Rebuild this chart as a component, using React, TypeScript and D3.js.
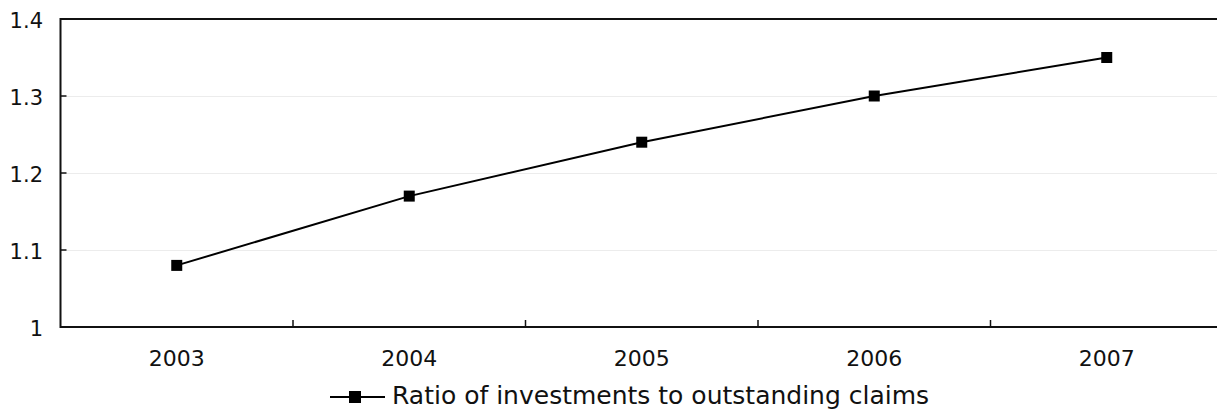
import React, { useEffect, useRef } from "react";
import * as d3 from "d3";

const years = ["2003", "2004", "2005", "2006", "2007"];
const ratioValues = [1.08, 1.17, 1.24, 1.3, 1.35];
const yTicks = [1, 1.1, 1.2, 1.3, 1.4];
const seriesName = "Ratio of investments to outstanding claims";

const W = 1217;
const H = 411;
const FONT = "'DejaVu Sans', Verdana, sans-serif";

export default function App() {
  const ref = useRef<SVGSVGElement>(null);

  useEffect(() => {
    const svg = d3.select(ref.current);
    svg.selectAll("*").remove();

    const left = 60.5;
    const top = 19;
    const bottom = 327;
    const step = 232.5;
    const right = left + step * years.length;

    const x = d3.scaleBand<string>().domain(years).range([left, right]);
    const y = d3.scaleLinear().domain([1, 1.4]).range([bottom, top]);

    // gridlines
    svg
      .append("g")
      .selectAll("line")
      .data(yTicks.filter((t) => t > 1 && t < 1.4))
      .join("line")
      .attr("x1", left)
      .attr("x2", right)
      .attr("y1", (d) => Math.round(y(d)) + 0.5)
      .attr("y2", (d) => Math.round(y(d)) + 0.5)
      .attr("stroke", "#ececec")
      .attr("stroke-width", 1);

    // top border
    svg
      .append("line")
      .attr("x1", left)
      .attr("x2", right)
      .attr("y1", top)
      .attr("y2", top)
      .attr("stroke", "#111")
      .attr("stroke-width", 2);

    // y axis
    svg
      .append("line")
      .attr("x1", left)
      .attr("x2", left)
      .attr("y1", top - 1)
      .attr("y2", bottom + 1)
      .attr("stroke", "#111")
      .attr("stroke-width", 2);

    svg
      .append("g")
      .selectAll("line")
      .data(yTicks)
      .join("line")
      .attr("x1", left)
      .attr("x2", left + 6)
      .attr("y1", (d) => y(d))
      .attr("y2", (d) => y(d))
      .attr("stroke", "#111")
      .attr("stroke-width", 1.5);

    svg
      .append("g")
      .selectAll("text")
      .data(yTicks)
      .join("text")
      .attr("x", 43)
      .attr("y", (d) => y(d) + 8.5)
      .attr("text-anchor", "end")
      .attr("font-family", FONT)
      .attr("font-size", 21)
      .attr("fill", "#111")
      .text((d) => d3.format("")(d));

    // x axis
    svg
      .append("line")
      .attr("x1", left)
      .attr("x2", right)
      .attr("y1", bottom)
      .attr("y2", bottom)
      .attr("stroke", "#111")
      .attr("stroke-width", 2);

    svg
      .append("g")
      .selectAll("line")
      .data(years.slice(1))
      .join("line")
      .attr("x1", (d) => x(d)!)
      .attr("x2", (d) => x(d)!)
      .attr("y1", bottom)
      .attr("y2", bottom - 7)
      .attr("stroke", "#111")
      .attr("stroke-width", 1.5);

    svg
      .append("g")
      .selectAll("text")
      .data(years)
      .join("text")
      .attr("x", (d) => x(d)! + x.bandwidth() / 2)
      .attr("y", 366)
      .attr("text-anchor", "middle")
      .attr("font-family", FONT)
      .attr("font-size", 22)
      .attr("fill", "#111")
      .text((d) => d);

    // series line
    const cx = (i: number) => x(years[i])! + x.bandwidth() / 2;
    const line = d3
      .line<number>()
      .x((_, i) => cx(i))
      .y((d) => y(d));

    svg
      .append("path")
      .attr("d", line(ratioValues))
      .attr("fill", "none")
      .attr("stroke", "#000")
      .attr("stroke-width", 2);

    const m = 11;
    svg
      .append("g")
      .selectAll("rect")
      .data(ratioValues)
      .join("rect")
      .attr("x", (_, i) => cx(i) - m / 2)
      .attr("y", (d) => y(d) - m / 2)
      .attr("width", m)
      .attr("height", m)
      .attr("fill", "#000");

    // legend
    const ly = 397;
    svg
      .append("line")
      .attr("x1", 330)
      .attr("x2", 385)
      .attr("y1", ly)
      .attr("y2", ly)
      .attr("stroke", "#000")
      .attr("stroke-width", 2);
    svg
      .append("rect")
      .attr("x", 355 - 6)
      .attr("y", ly - 6)
      .attr("width", 12)
      .attr("height", 12)
      .attr("fill", "#000");
    svg
      .append("text")
      .attr("x", 392)
      .attr("y", 404)
      .attr("font-family", FONT)
      .attr("font-size", 25)
      .attr("fill", "#111")
      .text(seriesName);
  }, []);

  return (
    <div style={{ position: "absolute", left: 0, top: 0 }}>
      <svg ref={ref} width={W} height={H} style={{ display: "block", background: "#fff" }} />
    </div>
  );
}
